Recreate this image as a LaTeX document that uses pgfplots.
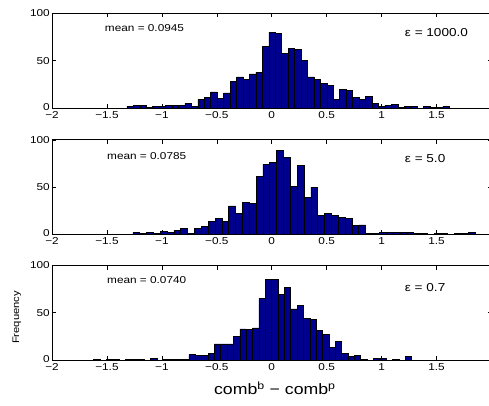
\documentclass[border=0pt]{standalone}
\usepackage{pgfplots}
\pgfplotsset{compat=1.18}
\usepackage{fontspec}
\setmainfont[FakeStretch=1.18]{Liberation Sans}
\definecolor{barblue}{RGB}{0,0,143}
\tikzset{
 meanlab/.style={anchor=west, font=\fontsize{10}{12}\selectfont},
 epslab/.style={anchor=west, font=\fontsize{11.5}{14}\selectfont},
}
\pgfplotsset{
 panel/.style={
  scale only axis, width=439.5pt, height=94.5pt,
  xmin=-2, xmax=2, ymin=0, ymax=100,
  xtick={-2,-1.5,-1,-0.5,0,0.5,1,1.5,2},
  xticklabels={−2,−1.5,−1,−0.5,0,0.5,1,1.5,{}},
  ytick={0,50,100},
  yticklabels={\raisebox{2.5pt}{0},50,100},
  /pgf/number format/assume math mode=true,
  tick label style={font=\fontsize{10}{11}\selectfont, black},
  xticklabel style={yshift=0pt, inner xsep=1pt},
  yticklabel style={xshift=0pt, inner xsep=2pt},
  axis line style={black, line width=0.8pt},
  major tick style={black, line width=0.6pt},
  major tick length=4pt,
  anchor=south west,
 },
 histbar/.style={ybar interval, fill=barblue, draw=black, line width=0.6pt},
}
\begin{document}
\begin{tikzpicture}
\useasboundingbox (0pt,0pt) rectangle (489pt,405pt);
\begin{axis}[panel, at={(52pt,297pt)}]
\addplot[histbar] coordinates {(-1.318,2) (-1.2593,3) (-1.2006,3) (-1.1419,1) (-1.0832,2) (-1.0245,2) (-0.9658,3) (-0.9071,3) (-0.8484,3) (-0.7897,5) (-0.731,2) (-0.6723,9) (-0.6136,11) (-0.5549,17) (-0.4962,10) (-0.4375,16) (-0.3788,28) (-0.3201,33) (-0.2614,30) (-0.2027,36) (-0.144,38) (-0.0853,65) (-0.0266,80) (0.0321,79) (0.0908,58) (0.1495,63) (0.2082,62) (0.2669,50) (0.3256,33) (0.3843,30) (0.443,26) (0.5017,24) (0.5604,9) (0.6191,20) (0.6778,19) (0.7365,11) (0.7952,9) (0.8539,12) (0.9126,5) (0.9713,2) (1.03,3) (1.0887,4) (1.1474,1) (1.2061,2) (1.2648,2) (1.3235,0) (1.3822,2) (1.4409,1) (1.4996,1) (1.5583,2) (1.617,2)};
\node[meanlab] at (axis cs:-1.55,85) {mean = 0.0945};
\node[epslab] at (axis cs:1.18,80) {ε = 1000.0};
\end{axis}
\begin{axis}[panel, at={(52pt,170.7pt)}]
\addplot[histbar] coordinates {(-1.264,2) (-1.2017,1) (-1.1394,2) (-1.0771,1) (-1.0148,3) (-0.9525,2) (-0.8902,4) (-0.8279,6) (-0.7656,1) (-0.7033,6) (-0.641,8) (-0.5787,14) (-0.5164,17) (-0.4541,14) (-0.3918,30) (-0.3295,22) (-0.2672,34) (-0.2049,33) (-0.1426,61) (-0.0803,74) (-0.018,76) (0.0443,89) (0.1066,81) (0.1689,51) (0.2312,73) (0.2935,39) (0.3558,50) (0.4181,20) (0.4804,22) (0.5427,20) (0.605,18) (0.6673,17) (0.7296,9) (0.7919,10) (0.8542,1) (0.9165,1) (0.9788,2) (1.0411,2) (1.1034,2) (1.1657,2) (1.228,2) (1.2903,1) (1.3526,1) (1.4149,0) (1.4772,1) (1.5395,1) (1.6018,0) (1.6641,1) (1.7264,1) (1.7887,2) (1.851,2)};
\node[meanlab] at (axis cs:-1.53,83) {mean = 0.0785};
\node[epslab] at (axis cs:1.18,80.5) {ε = 5.0};
\end{axis}
\begin{axis}[panel, at={(52pt,45pt)},
  xlabel={comb\textsuperscript{b} − comb\textsuperscript{p}},
  xlabel style={at={(axis description cs:0.507,-0.295)}, anchor=center, font=\fontsize{15}{18}\selectfont},
  ylabel={Frequency},
  ylabel style={at={(axis description cs:-0.08,0.45)}, anchor=center, font=\fontsize{9.5}{12}\selectfont}]
\addplot[histbar] coordinates {(-1.622,1) (-1.5641,0) (-1.5062,1) (-1.4483,1) (-1.3904,0) (-1.3325,1) (-1.2746,1) (-1.2167,1) (-1.1588,0) (-1.1009,2) (-1.043,0) (-0.9851,1) (-0.9272,1) (-0.8693,1) (-0.8114,1) (-0.7535,6) (-0.6956,5) (-0.6377,5) (-0.5798,7) (-0.5219,17) (-0.464,17) (-0.4061,17) (-0.3482,25) (-0.2903,33) (-0.2324,32) (-0.1745,34) (-0.1166,65) (-0.0587,85) (-0.0008,85) (0.0571,69) (0.115,77) (0.1729,54) (0.2308,58) (0.2887,44) (0.3466,43) (0.4045,31) (0.4624,27) (0.5203,13) (0.5782,20) (0.6361,7) (0.694,4) (0.7519,5) (0.8098,1) (0.8677,0) (0.9256,2) (0.9835,2) (1.0414,0) (1.0993,1) (1.1572,0) (1.2151,4) (1.273,4)};
\node[meanlab] at (axis cs:-1.53,85) {mean = 0.0740};
\node[epslab] at (axis cs:1.18,77) {ε = 0.7};
\end{axis}
\end{tikzpicture}
\end{document}
